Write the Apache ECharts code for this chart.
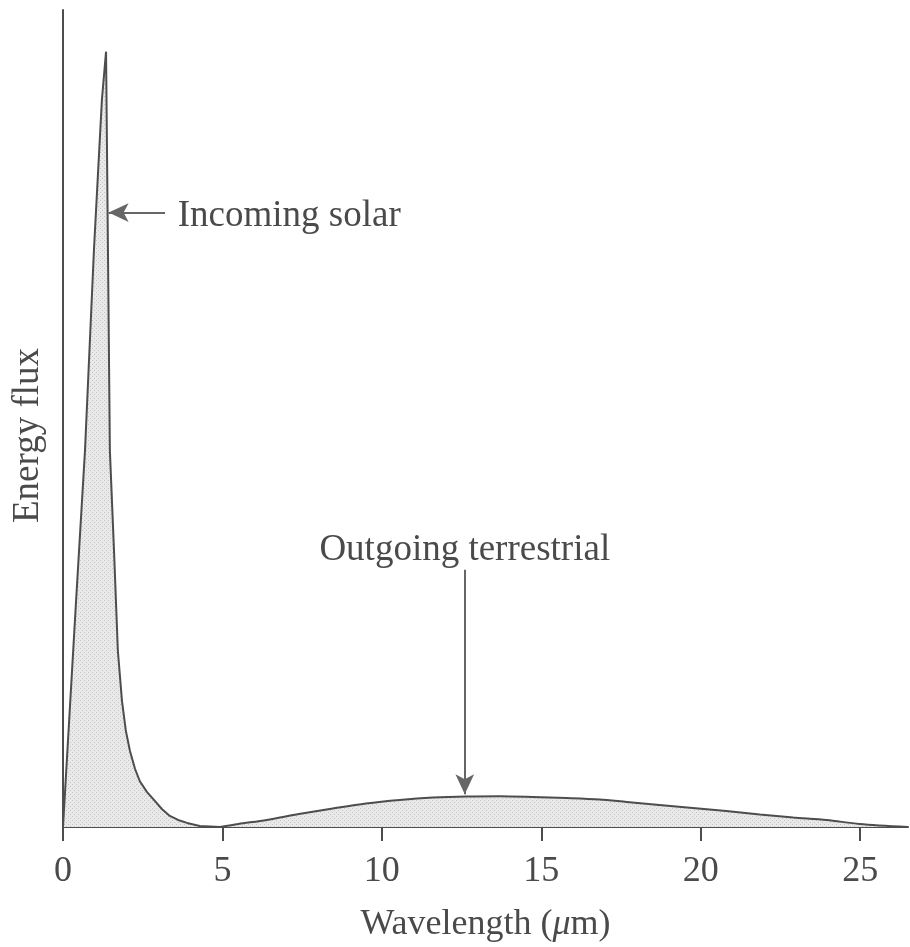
<!DOCTYPE html>
<html>
<head>
<meta charset="utf-8">
<script src="https://cdn.jsdelivr.net/npm/echarts@6/dist/echarts.min.js"></script>
<style>
html,body{margin:0;padding:0;background:#fff;}
#chart{width:910px;height:947px;}
</style>
</head>
<body>
<div id="chart"></div>
<script>
// Wavelength (µm) and relative energy flux
var solarX = [0, 0.41, 0.69, 0.97, 1.22, 1.35, 1.41, 1.47, 1.60, 1.72, 1.85, 1.97, 2.10, 2.26, 2.41, 2.63, 2.88, 3.10, 3.35, 3.61, 3.89, 4.29, 4.92];
var solarY = [0, 27.7, 46.1, 70.6, 89.0, 94.9, 70.6, 46.1, 33.8, 21.6, 15.4, 11.8, 9.3, 7.1, 5.6, 4.3, 3.2, 2.2, 1.35, 0.86, 0.5, 0.12, 0];
var terrX = [4.92, 5.5, 6.39, 7.4, 8.46, 9.5, 10.56, 11.6, 12.66, 13.7, 14.73, 15.8, 16.83, 17.68, 18.7, 19.75, 20.8, 21.85, 22.9, 23.95, 24.98, 26.49];
var terrY = [0, 0.37, 0.86, 1.6, 2.27, 2.88, 3.31, 3.6, 3.74, 3.77, 3.68, 3.55, 3.37, 3.06, 2.7, 2.33, 1.96, 1.53, 1.16, 0.86, 0.37, 0];
var xTicks = [0, 5, 10, 15, 20, 25];
var solarLabel = 'Incoming solar';
var terrLabel = 'Outgoing terrestrial';
var solarLabelPos = [3.6, 74.8];
var solarArrow = [[3.2, 75.2], [1.43, 75.2]];
var terrLabelPos = [12.6, 33.9];
var terrArrow = [[12.6, 31.5], [12.6, 4.0]];

function pairs(xs, ys) { return xs.map(function (x, i) { return [x, ys[i]]; }); }

// dotted halftone fill
var pat = document.createElement('canvas');
pat.width = 4; pat.height = 4;
var pc = pat.getContext('2d');
pc.fillStyle = '#e9e9e9'; pc.fillRect(0, 0, 4, 4);
pc.fillStyle = '#c4c4c4'; pc.fillRect(0, 0, 1, 1); pc.fillRect(2, 2, 1, 1);

var FONT = 'Liberation Serif';
var TXT = '#4a4a4a';
var LINE = '#4d4d4d';

var chart = echarts.init(document.getElementById('chart'), null, {renderer: 'canvas'});
chart.setOption({
  animation: false,
  backgroundColor: '#fff',
  grid: {left: 63, right: 2, top: 10, bottom: 120, containLabel: false, outerBoundsMode: 'none'},
  xAxis: {
    type: 'value', min: 0, max: 26.5,
    name: 'Wavelength ({i|μ}m)',
    nameLocation: 'middle', nameGap: 80,
    nameTextStyle: {fontFamily: FONT, fontSize: 36, color: TXT,
      rich: {i: {fontFamily: FONT, fontSize: 36, fontStyle: 'italic', color: TXT}}},
    axisLine: {show: true, lineStyle: {color: LINE, width: 2}},
    axisTick: {show: true, length: 14, lineStyle: {color: LINE, width: 2}, customValues: xTicks},
    axisLabel: {fontFamily: FONT, fontSize: 36, color: TXT, margin: 27, customValues: xTicks},
    splitLine: {show: false}
  },
  yAxis: {
    type: 'value', min: 0, max: 100,
    name: 'Energy flux', nameLocation: 'middle', nameGap: 16, nameRotate: 90,
    nameTextStyle: {fontFamily: FONT, fontSize: 37, color: TXT, padding: [0, 34, 0, 0]},
    axisLine: {show: true, lineStyle: {color: LINE, width: 2}},
    axisTick: {show: false}, axisLabel: {show: false}, splitLine: {show: false}
  },
  series: [
    {
      type: 'line', data: pairs(solarX, solarY), showSymbol: false, smooth: false,
      lineStyle: {color: LINE, width: 2},
      areaStyle: {color: {image: pat, repeat: 'repeat'}, opacity: 1},
      markLine: {
        silent: true, symbol: ['none', 'arrow'], symbolSize: [14, 20],
        lineStyle: {color: '#666', width: 2, type: 'solid'}, label: {show: false},
        data: [[{coord: solarArrow[0]}, {coord: solarArrow[1]}]]
      },
      markPoint: {
        silent: true, symbol: 'circle', symbolSize: 0,
        label: {show: true, position: 'right', distance: 0, fontFamily: FONT, fontSize: 37, color: TXT,
          formatter: function () { return solarLabel; }},
        data: [{coord: solarLabelPos}]
      },
      z: 3
    },
    {
      type: 'line', data: pairs(terrX, terrY), showSymbol: false, smooth: 0.3,
      lineStyle: {color: LINE, width: 2},
      areaStyle: {color: {image: pat, repeat: 'repeat'}, opacity: 1},
      markLine: {
        silent: true, symbol: ['none', 'arrow'], symbolSize: [14, 20],
        lineStyle: {color: '#666', width: 2, type: 'solid'}, label: {show: false},
        data: [[{coord: terrArrow[0]}, {coord: terrArrow[1]}]]
      },
      markPoint: {
        silent: true, symbol: 'circle', symbolSize: 0,
        label: {show: true, position: 'inside', fontFamily: FONT, fontSize: 37, color: TXT,
          formatter: function () { return terrLabel; }},
        data: [{coord: terrLabelPos}]
      },
      z: 3
    }
  ]
});
</script>
</body>
</html>
